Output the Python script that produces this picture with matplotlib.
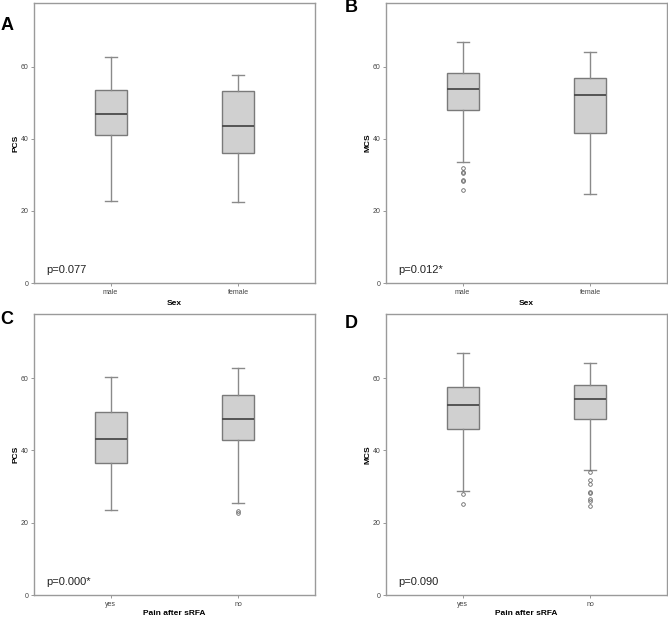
import matplotlib
matplotlib.use("Agg")
import matplotlib.pyplot as plt

plt.rcParams['font.family'] = ['Liberation Sans', 'DejaVu Sans']

# ---- data ----
sex_labels = ["male", "female"]
pain_labels = ["yes", "no"]

# Panel A: PCS by Sex  (whislo, q1, med, q3, whishi)
A_male = [22.7, 41.0, 47.0, 53.5, 62.8]
A_female = [22.4, 36.0, 43.6, 53.4, 57.8]
A_male_out = []
A_female_out = []

# Panel B: MCS by Sex
B_male = [33.6, 48.0, 53.8, 58.2, 66.8]
B_female = [24.7, 41.5, 52.2, 56.8, 64.1]
B_male_out = [31.8, 30.8, 30.5, 28.7, 28.3, 25.9]
B_female_out = []

# Panel C: PCS by Pain after sRFA
C_yes = [23.6, 36.5, 43.2, 50.7, 60.4]
C_no = [25.4, 42.9, 48.7, 55.3, 62.9]
C_yes_out = []
C_no_out = [23.1, 22.7]

# Panel D: MCS by Pain after sRFA
D_yes = [28.7, 45.9, 52.5, 57.5, 66.8]
D_no = [34.5, 48.7, 54.1, 58.1, 64.2]
D_yes_out = [27.8, 25.3]
D_no_out = [33.9, 31.9, 30.7, 28.6, 28.1, 26.5, 26.1, 24.6]

p_values = ["p=0.077", "p=0.012*", "p=0.000*", "p=0.090"]
panel_letters = ["A", "B", "C", "D"]
y_labels = ["PCS", "MCS", "PCS", "MCS"]
x_titles = ["Sex", "Sex", "Pain after sRFA", "Pain after sRFA"]
y_ticks = [0, 20, 40, 60]


def make_stats(vals, outs, label):
    lo, q1, med, q3, hi = vals
    return dict(whislo=lo, q1=q1, med=med, q3=q3, whishi=hi, fliers=outs, label=label)


panels = [
    ([make_stats(A_male, A_male_out, sex_labels[0]), make_stats(A_female, A_female_out, sex_labels[1])]),
    ([make_stats(B_male, B_male_out, sex_labels[0]), make_stats(B_female, B_female_out, sex_labels[1])]),
    ([make_stats(C_yes, C_yes_out, pain_labels[0]), make_stats(C_no, C_no_out, pain_labels[1])]),
    ([make_stats(D_yes, D_yes_out, pain_labels[0]), make_stats(D_no, D_no_out, pain_labels[1])]),
]

W, H = 668, 617
fig = plt.figure(figsize=(W / 100, H / 100), dpi=100)

# axes rectangles in pixels: left, top, right, bottom
rects = [(34, 3, 315, 283), (386, 3, 667, 283), (34, 314, 315, 595), (386, 314, 667, 595)]
letter_pos = [(7, 25), (351, 7), (7, 320), (351, 323)]
xlabel_pads = [3, 3, 1.8, 1.8]

frame_col = "#9a9a9a"
edge_col = "#7a7a7a"
for i, stats in enumerate(panels):
    l, t, r, b = rects[i]
    ax = fig.add_axes([l / W, 1 - b / H, (r - l) / W, (b - t) / H])
    ax.bxp(stats, positions=[0, 1], widths=0.25, patch_artist=True,
           boxprops=dict(facecolor="#d0d0d0", edgecolor=edge_col, linewidth=1.0),
           medianprops=dict(color="#4a4a4a", linewidth=1.3),
           whiskerprops=dict(color="#8a8a8a", linewidth=1.0),
           capprops=dict(color="#8a8a8a", linewidth=1.0),
           capwidths=0.095,
           flierprops=dict(marker="o", markersize=2.6, markerfacecolor="none",
                           markeredgecolor="#666666", markeredgewidth=0.6, linestyle="none"))
    ax.set_xlim(-0.6, 1.6)
    ax.set_ylim(0, 77.7)
    ax.set_yticks(y_ticks)
    ax.set_yticklabels([str(v) for v in y_ticks])
    for s in ax.spines.values():
        s.set_color(frame_col)
        s.set_linewidth(1.0)
    ax.tick_params(axis="both", direction="out", length=2.5, width=0.6, color="#888888",
                   labelsize=5, labelcolor="#444444", pad=1.5)
    ax.set_ylabel(y_labels[i], fontsize=6, fontweight="bold", labelpad=1)
    ax.set_xlabel(x_titles[i], fontsize=6, fontweight="bold", labelpad=xlabel_pads[i])
    ax.text(0.045, 0.048, p_values[i], transform=ax.transAxes, fontsize=8,
            ha="left", va="center", color="#222222")
    lx, ly = letter_pos[i]
    fig.text(lx / W, 1 - ly / H, panel_letters[i], fontsize=13, fontweight="bold",
             ha="center", va="center", color="black")

fig.savefig("out.png", dpi=100)
